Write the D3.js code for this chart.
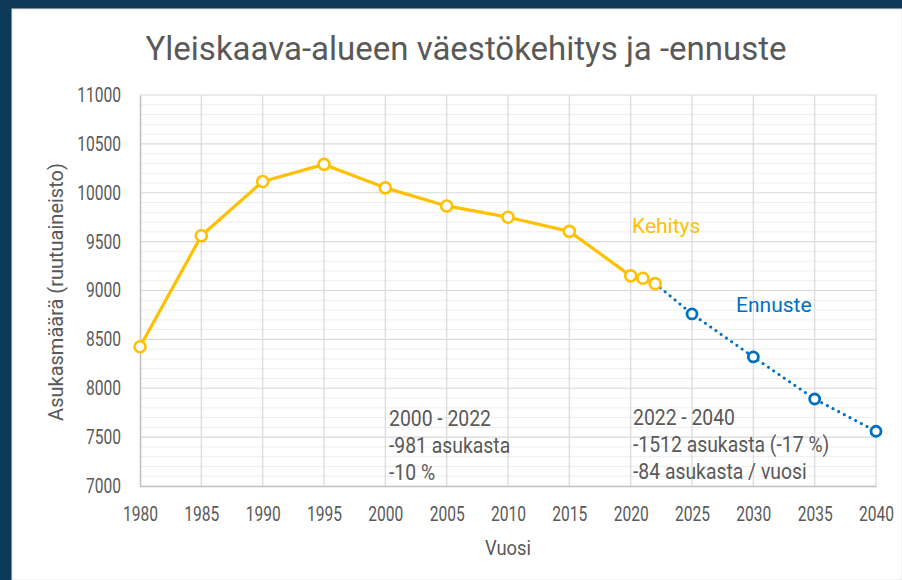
<!DOCTYPE html>
<html>
<head>
<meta charset="utf-8">
<script src="https://cdn.jsdelivr.net/npm/d3@7"></script>
<style>
  html, body { margin: 0; padding: 0; background: #0e3a5a; }
  svg { display: block; }
</style>
</head>
<body>
<div id="chart"></div>
<script>
// data
var years = [1980, 1985, 1990, 1995, 2000, 2005, 2010, 2015, 2020, 2021, 2022];
var kehitys = [8425, 9560, 10115, 10290, 10050, 9865, 9750, 9605, 9150, 9125, 9070];
var ennusteYears = [2022, 2025, 2030, 2035, 2040];
var ennuste = [9070, 8760, 8320, 7890, 7560];
var xTicks = [1980, 1985, 1990, 1995, 2000, 2005, 2010, 2015, 2020, 2025, 2030, 2035, 2040];
var yTicks = [7000, 7500, 8000, 8500, 9000, 9500, 10000, 10500, 11000];
var notesLeft = ["2000 - 2022", "-981 asukasta", "-10 %"];
var notesRight = ["2022 - 2040", "-1512 asukasta (-17 %)", "-84 asukasta / vuosi"];

var width = 902, height = 580;
var yellow = "#ffc000", blue = "#0070c0", grey = "#595959";
var font = "Roboto, sans-serif";

var svg = d3.select("#chart").append("svg")
    .attr("width", width)
    .attr("height", height);

// navy frame + white panel
svg.append("rect").attr("width", width).attr("height", height).attr("fill", "#0e3a5a");
svg.append("rect").attr("x", 12).attr("y", 9).attr("width", width - 12).attr("height", height - 9)
    .attr("fill", "#fff").attr("stroke", "#e6e6e6").attr("stroke-width", 1);

var x = d3.scaleLinear().domain([1980, 2040]).range([140, 876]);
var y = d3.scaleLinear().domain([7000, 11000]).range([486, 95]);

// minor grid every 100
var minor = d3.range(7100, 11000, 100).filter(function (v) { return v % 500 != 0; });
svg.append("g").selectAll("line").data(minor).enter().append("line")
    .attr("x1", x(1980)).attr("x2", x(2040))
    .attr("y1", function (d) { return y(d); }).attr("y2", function (d) { return y(d); })
    .attr("stroke", "#eeeeee").attr("stroke-width", 1);

// major grid
svg.append("g").selectAll("line").data(yTicks.slice(1)).enter().append("line")
    .attr("x1", x(1980)).attr("x2", x(2040))
    .attr("y1", function (d) { return y(d); }).attr("y2", function (d) { return y(d); })
    .attr("stroke", "#d9d9d9").attr("stroke-width", 1.2);
svg.append("g").selectAll("line").data(xTicks.slice(1)).enter().append("line")
    .attr("x1", function (d) { return x(d); }).attr("x2", function (d) { return x(d); })
    .attr("y1", y(11000)).attr("y2", y(7000))
    .attr("stroke", "#d9d9d9").attr("stroke-width", 1.2);

// axes (narrow digits -> squeeze the labels horizontally)
var sxTick = 0.78;
var xAxis = svg.append("g").attr("transform", "translate(0," + y(7000) + ")")
    .call(d3.axisBottom(x).tickValues(xTicks).tickFormat(d3.format("d")).tickSize(0).tickPadding(21));
var yAxis = svg.append("g").attr("transform", "translate(" + x(1980) + ",0)")
    .call(d3.axisLeft(y).tickValues(yTicks).tickFormat(d3.format("d")).tickSize(0).tickPadding(19));
[xAxis, yAxis].forEach(function (a) {
    a.select(".domain").attr("stroke", "#bfbfbf").attr("stroke-width", 1.5);
    a.selectAll("text").attr("font-family", font).attr("font-size", 20).attr("fill", grey)
        .attr("transform", "scale(" + sxTick + ",1)");
});
yAxis.selectAll("text").attr("x", -19 / sxTick);

// lines
var line = d3.line().x(function (d) { return x(d[0]); }).y(function (d) { return y(d[1]); });
var ennData = d3.zip(ennusteYears, ennuste);
var kehData = d3.zip(years, kehitys);

svg.append("path").datum(ennData).attr("d", line)
    .attr("fill", "none").attr("stroke", blue).attr("stroke-width", 3)
    .attr("stroke-linecap", "round").attr("stroke-dasharray", "0.1 6.3");
svg.append("path").datum(kehData).attr("d", line)
    .attr("fill", "none").attr("stroke", yellow).attr("stroke-width", 3.2)
    .attr("stroke-linejoin", "round");

svg.append("g").selectAll("circle").data(ennData.slice(1)).enter().append("circle")
    .attr("cx", function (d) { return x(d[0]); }).attr("cy", function (d) { return y(d[1]); })
    .attr("r", 5).attr("fill", "#fff").attr("stroke", blue).attr("stroke-width", 2.8);
svg.append("g").selectAll("circle").data(kehData).enter().append("circle")
    .attr("cx", function (d) { return x(d[0]); }).attr("cy", function (d) { return y(d[1]); })
    .attr("r", 5.5).attr("fill", "#fff").attr("stroke", yellow).attr("stroke-width", 2.6);

// text helper: placed with a transform so it can be squeezed
function label(tx, ty, str, size, color, sx, anchor) {
    return svg.append("text")
        .attr("transform", "translate(" + tx + "," + ty + ") scale(" + (sx || 1) + ",1)")
        .attr("text-anchor", anchor || "start")
        .attr("font-family", font).attr("font-size", size).attr("fill", color)
        .text(str);
}

label(466, 60, "Yleiskaava-alueen väestökehitys ja -ennuste", 33, grey, 1, "middle");

svg.append("text").attr("transform", "translate(63,292) rotate(-90)").attr("text-anchor", "middle")
    .attr("font-family", font).attr("font-size", 20).attr("fill", grey)
    .text("Asukasmäärä (ruutuaineisto)");
label(508, 555, "Vuosi", 20, grey, 0.92, "middle");

label(632, 233, "Kehitys", 21, yellow);
label(736, 312, "Ennuste", 21, blue);

notesLeft.forEach(function (d, i) { label(389, 426 + i * 27, d, 22, grey, 0.88); });
notesRight.forEach(function (d, i) { label(633, 425 + i * 27, d, 22, grey, 0.88); });
</script>
</body>
</html>
